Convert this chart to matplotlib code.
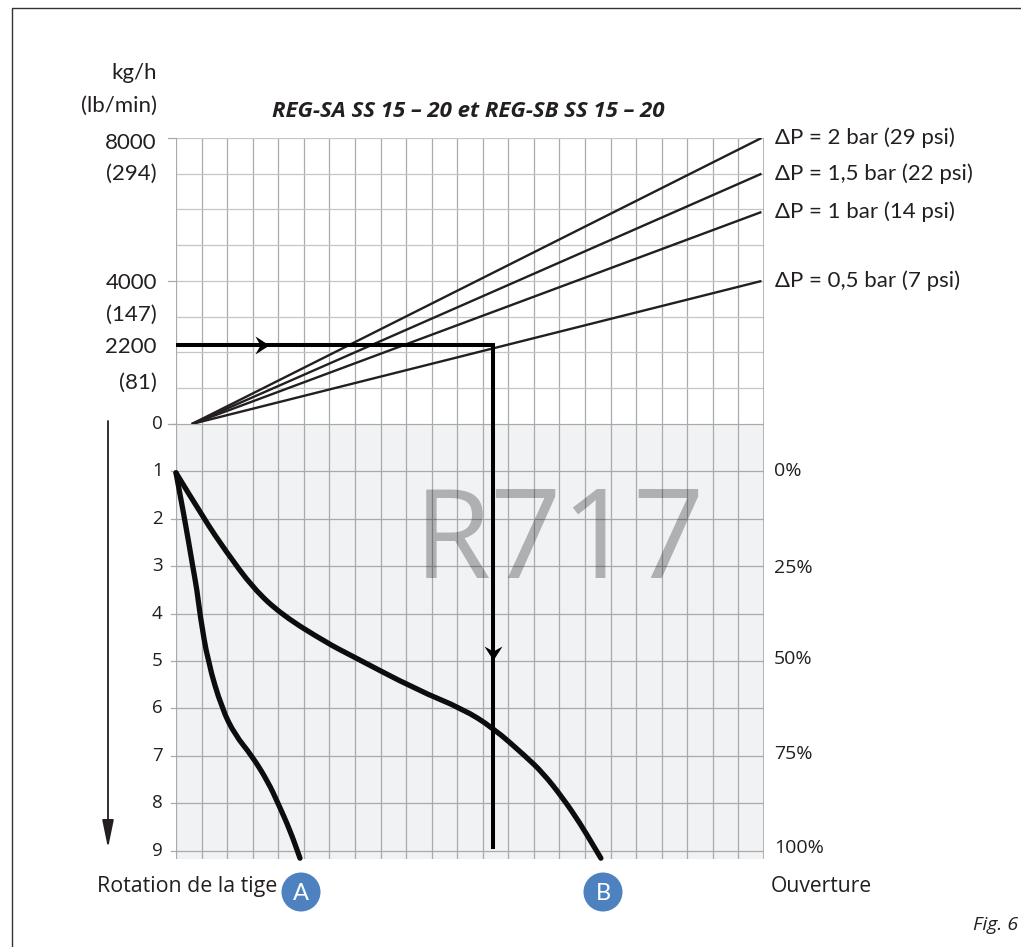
import matplotlib
matplotlib.use('Agg')
import matplotlib.pyplot as plt
from matplotlib.path import Path
from matplotlib.patches import PathPatch, Circle

W, H = 1021, 947

# flow chart values (kg/h), x in grid cells
fan_x = [0.62, 22.9]
fan_2bar = [0, 8000]
fan_15bar = [0, 7000]
fan_1bar = [0, 5930]
fan_05bar = [0, 4000]
fan_series = [fan_2bar, fan_15bar, fan_1bar, fan_05bar]
fan_labels = ['ΔP = 2 bar (29 psi)', 'ΔP = 1,5 bar (22 psi)', 'ΔP = 1 bar (14 psi)', 'ΔP = 0,5 bar (7 psi)']
flow_major = [0, 4000, 8000]
flow_labels = [(7900, '8000'), (7050, '(294)'), (4000, '4000'), (3100, '(147)'), (2210, '2200'), (1200, '(81)')]

# rotation chart values, x in grid cells
curve_a_x = [0, 0.35, 0.66, 0.82, 0.94, 1.25, 1.8, 2.31, 2.97, 3.6, 3.99, 4.46, 4.85]
curve_a_rot = [1.03, 2.03, 3.02, 3.5, 4.03, 5.02, 6.01, 6.56, 7.0, 7.55, 8.0, 8.57, 9.16]
curve_b_x = [0, 1.13, 1.92, 3.01, 4.15, 5.91, 6.8, 9.43, 11.22, 12.4, 13.65, 14.35, 15.13, 15.8, 16.31, 16.62]
curve_b_rot = [1.03, 2.03, 2.66, 3.46, 4.03, 4.62, 4.87, 5.61, 6.01, 6.41, 7.0, 7.36, 7.89, 8.42, 8.88, 9.16]
rot_ticks = [0, 1, 2, 3, 4, 5, 6, 7, 8, 9]
open_ticks = [(1.0, '0%'), (3.04, '25%'), (4.96, '50%'), (6.96, '75%'), (8.94, '100%')]

example_flow = 2210
example_x = 12.4

plt.rcParams['font.family'] = ['Lato', 'DejaVu Sans']
OPEN = ['Open Sans', 'DejaVu Sans']
GRID = '#a9aaac'
BLACK = '#231f20'

# barbed arrow head, pointing right
HEAD = Path([(-7, 9), (7, 0), (-7, -9), (-2, 0), (-7, 9)], closed=True)
HEAD_DOWN = Path([(-9, 7), (0, -7), (9, 7), (0, 2), (-9, 7)], closed=True)


def axes_px(left, top, right, bottom):
    return fig.add_axes([left / W, 1 - bottom / H, (right - left) / W, (bottom - top) / H])


def smooth(ax, xs, ys, lw):
    # quadratic segments through the midpoints of the read points
    verts = [(xs[0], ys[0])]
    codes = [Path.MOVETO]
    for i in range(1, len(xs) - 1):
        verts += [(xs[i], ys[i]), ((xs[i] + xs[i + 1]) / 2, (ys[i] + ys[i + 1]) / 2)]
        codes += [Path.CURVE3, Path.CURVE3]
    verts.append((xs[-1], ys[-1]))
    codes.append(Path.LINETO)
    ax.add_patch(PathPatch(Path(verts, codes), fill=False, ec='#0d0d0d', lw=lw, capstyle='round', zorder=5, clip_on=False))


fig = plt.figure(figsize=(W / 100, H / 100), dpi=100)
bg = fig.add_axes([0, 0, 1, 1])
bg.set_xlim(0, W)
bg.set_ylim(H, 0)
bg.axis('off')

# page frame
bg.plot([11.5, 11.5, W], [H, 7.5, 7.5], color='#333333', lw=1.0)

top = axes_px(176, 138, 764, 424)
low = axes_px(176, 424, 764, 859)

for ax in (top, low):
    ax.patch.set_alpha(0)
    ax.set_xlim(0, 23)
    ax.set_xticks(range(24))
    ax.tick_params(length=0, labelbottom=False, labelleft=False)
    ax.grid(True, color=GRID, lw=0.9)
    ax.set_axisbelow(True)
    for s in ax.spines.values():
        s.set_visible(False)
    ax.axvline(0, color=GRID, lw=1.2)
    ax.axvline(23, color=GRID, lw=1.2)

top.set_ylim(0, 8000)
top.set_yticks(range(0, 9000, 1000))
for ln in top.get_ygridlines():
    ln.set_color('#c4c5c7')
low.set_facecolor('#f1f2f4')
low.patch.set_alpha(1)
low.set_ylim(9.177, 0)
low.set_yticks(rot_ticks)

# fan lines
for vals, lab in zip(fan_series, fan_labels):
    top.plot(fan_x, vals, color=BLACK, lw=1.7, solid_capstyle='butt', zorder=4)
    top.annotate(lab, (fan_x[1], vals[1]), xytext=(775, 0), textcoords=('figure pixels', 'offset points'),
                 ha='left', va='center', fontsize=16, color=BLACK)

# worked example
top.plot([0, example_x, example_x], [example_flow, example_flow, 0], color='black', lw=2.9,
         solid_joinstyle='miter', solid_capstyle='butt', zorder=6)
low.plot([example_x, example_x], [0, 8.96], color='black', lw=2.9, solid_capstyle='butt', zorder=6)
top.plot([3.36], [example_flow], marker=HEAD, ms=13, mew=0, color='black', zorder=7)
low.plot([example_x], [4.83], marker=HEAD_DOWN, ms=13, mew=0, color='black', zorder=7)

smooth(low, curve_a_x, curve_a_rot, 3.8)
smooth(low, curve_b_x, curve_b_rot, 3.8)

# left tick stubs and labels
for v in flow_major:
    top.plot([-0.3, 0], [v, v], color=GRID, lw=0.9, clip_on=False)
for v, s in flow_labels:
    top.annotate(s, (0, v), xytext=(157, -1.2), textcoords=('figure pixels', 'offset points'),
                 ha='right', va='center', fontsize=16, color=BLACK)
for v in rot_ticks:
    low.plot([-0.2, 0], [v, v], color=GRID, lw=0.9, clip_on=False)
    low.annotate(str(v), (0, v), xytext=(-9.5, 0), textcoords='offset points', ha='right', va='center',
                 fontsize=13.5, color=BLACK, family=OPEN)
for v, s in open_ticks:
    low.annotate(s, (23, v), xytext=(7, 0), textcoords='offset points', ha='left', va='center',
                 fontsize=14, color=BLACK, family=OPEN)

bg.text(157, 73, 'kg/h', ha='right', va='center', fontsize=16, color=BLACK)
bg.text(157, 106, '(lb/min)', ha='right', va='center', fontsize=16, color=BLACK)
bg.text(468, 111, 'REG-SA SS 15 – 20 et REG-SB SS 15 – 20', ha='center', va='center', fontsize=16,
        fontweight='bold', fontstyle='italic', color=BLACK, family=OPEN)

bg.annotate('', xy=(108, 848), xytext=(108, 421),
            arrowprops=dict(arrowstyle='-|>,head_length=1.7,head_width=0.35', color=BLACK, lw=1.3, shrinkA=0, shrinkB=0))

bg.text(97, 886, 'Rotation de la tige', ha='left', va='center', fontsize=15.4, color=BLACK, family=OPEN)
bg.text(771, 886, 'Ouverture', ha='left', va='center', fontsize=15.2, color=BLACK, family=OPEN)
bg.text(1018, 925, 'Fig. 6', ha='right', va='center', fontsize=14, fontstyle='italic', color=BLACK, family=OPEN)

fig.text(559.5 / W, 1 - 578 / H, 'R717', ha='center', va='baseline', fontsize=90, color='black', alpha=0.27,
         zorder=10, family=OPEN)

for cx, s in ((301, 'A'), (603, 'B')):
    bg.add_patch(Circle((cx, 892), 19.5, color='#4e81bf', lw=0, zorder=5))
    bg.text(cx, 893, s, ha='center', va='center', fontsize=17, color='white', zorder=6)

fig.savefig('out.png', dpi=100)
